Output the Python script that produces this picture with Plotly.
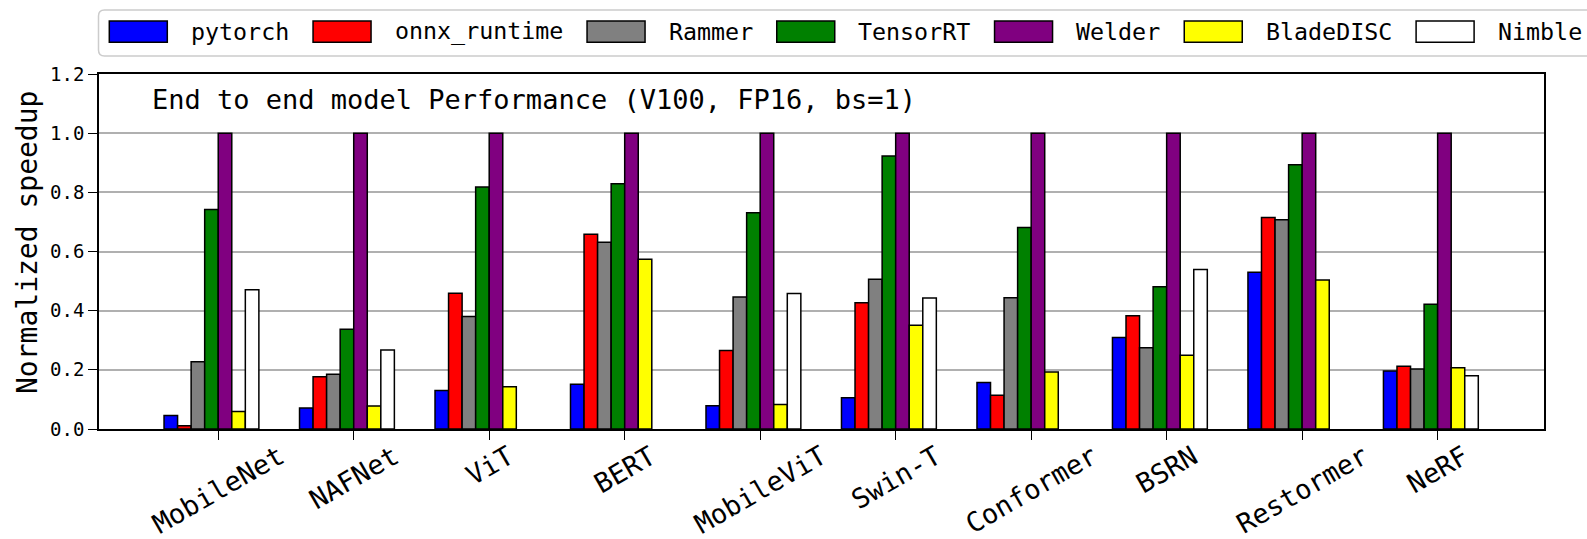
import plotly.graph_objects as go

# ---------------- data ----------------
models = ["MobileNet", "NAFNet", "ViT", "BERT", "MobileViT",
          "Swin-T", "Conformer", "BSRN", "Restormer", "NeRF"]
pytorch = [0.046, 0.071, 0.130, 0.151, 0.079, 0.106, 0.157, 0.309, 0.530, 0.196]
onnx_runtime = [0.011, 0.177, 0.459, 0.658, 0.265, 0.427, 0.114, 0.383, 0.715, 0.212]
rammer = [0.227, 0.185, 0.380, 0.631, 0.446, 0.506, 0.444, 0.275, 0.707, 0.203]
tensorrt = [0.742, 0.337, 0.818, 0.829, 0.731, 0.923, 0.681, 0.481, 0.893, 0.422]
welder = [1.0, 1.0, 1.0, 1.0, 1.0, 1.0, 1.0, 1.0, 1.0, 1.0]
bladedisc = [0.059, 0.078, 0.143, 0.574, 0.083, 0.351, 0.193, 0.249, 0.504, 0.207]
nimble = [0.471, 0.267, None, None, 0.458, 0.443, None, 0.539, None, 0.180]

series_names = ["pytorch", "onnx_runtime", "Rammer", "TensorRT", "Welder", "BladeDISC", "Nimble"]
series_values = [pytorch, onnx_runtime, rammer, tensorrt, welder, bladedisc, nimble]
series_colors = ["#0000ff", "#ff0000", "#808080", "#008000", "#800080", "#ffff00", "#ffffff"]

y_ticks = [0.0, 0.2, 0.4, 0.6, 0.8, 1.0, 1.2]
title_text = "End to end model Performance (V100, FP16, bs=1)"
y_title = "Normalized speedup"

# ---------------- layout constants ----------------
W, H = 1587, 539
L, R, T, B = 99, 43, 74, 110
PW, PH = W - L - R, H - T - B
FONT = "DejaVu Sans Mono"
BAR_W = 0.1

def px_x(p):
    return (p - L) / PW

def px_y(p):
    return (H - B - p) / PH

xs = list(range(len(models)))

fig = go.Figure()
for name, vals, col in zip(series_names, series_values, series_colors):
    fig.add_trace(go.Bar(
        x=xs, y=vals, name=name, showlegend=False,
        marker=dict(color=col, line=dict(color="black", width=1.5)),
    ))

annotations = []
shapes = []

# x tick labels (rotated, centred under ticks)
for i, m in enumerate(models):
    annotations.append(dict(
        x=i + BAR_W / 2, xref="x", y=0, yref="paper", yshift=-9,
        text=m, showarrow=False, textangle=-30, borderpad=0,
        xanchor="center", yanchor="top",
        font=dict(family=FONT, size=27, color="black"),
    ))

# in-plot title
annotations.append(dict(
    x=px_x(150), xref="paper", y=px_y(99), yref="paper",
    text=title_text, showarrow=False, xanchor="left", yanchor="middle",
    font=dict(family=FONT, size=27, color="black"),
))

# y axis title
annotations.append(dict(
    x=px_x(27), xref="paper", y=px_y(243), yref="paper",
    text=y_title, showarrow=False, textangle=-90,
    xanchor="center", yanchor="middle",
    font=dict(family=FONT, size=28, color="black"),
))

# custom legend (matplotlib-style, big swatches)
lx0, ly0, lx1, ly1 = 98.5, 10, 1610, 56
rx, ry = 6 / PW, 6 / PH
X0, X1, Y0, Y1 = px_x(lx0), px_x(lx1), px_y(ly0), px_y(ly1)
path = (f"M {X0+rx},{Y0} L {X1-rx},{Y0} Q {X1},{Y0} {X1},{Y0-ry} "
        f"L {X1},{Y1+ry} Q {X1},{Y1} {X1-rx},{Y1} L {X0+rx},{Y1} "
        f"Q {X0},{Y1} {X0},{Y1+ry} L {X0},{Y0-ry} Q {X0},{Y0} {X0+rx},{Y0} Z")
shapes.append(dict(type="path", path=path, xref="paper", yref="paper",
                   line=dict(color="#cccccc", width=1.5), fillcolor="white", layer="below"))

CHAR_W = 14.05
cursor = 109.3
for name, col in zip(series_names, series_colors):
    shapes.append(dict(type="rect", xref="paper", yref="paper",
                       x0=px_x(cursor), x1=px_x(cursor + 58),
                       y0=px_y(42.3), y1=px_y(21),
                       fillcolor=col, line=dict(color="black", width=1.5)))
    tx = cursor + 79.7
    annotations.append(dict(
        x=px_x(tx), xref="paper", y=px_y(31.5), yref="paper",
        text=name, showarrow=False, xanchor="left", yanchor="middle",
        font=dict(family=FONT, size=23.3, color="black"),
    ))
    cursor = tx + len(name) * CHAR_W + 25.7

fig.update_layout(
    width=W, height=H,
    margin=dict(l=L, r=R, t=T, b=B, pad=0),
    paper_bgcolor="white", plot_bgcolor="white",
    barmode="group", bargap=0.3, bargroupgap=0,
    annotations=annotations, shapes=shapes,
    font=dict(family=FONT, color="black"),
    xaxis=dict(
        range=[-0.83, 9.835], tickmode="array",
        tickvals=[i + BAR_W / 2 for i in xs], ticktext=["" for _ in xs],
        showticklabels=False, ticks="outside", ticklen=9, tickwidth=1.3, tickcolor="black",
        showline=True, linecolor="black", linewidth=1.5, mirror=True,
        showgrid=False, zeroline=False,
    ),
    yaxis=dict(
        range=[0, 1.2], tickmode="array", tickvals=y_ticks,
        ticktext=[f"{v:.1f}" for v in y_ticks],
        ticks="outside", ticklen=9, tickwidth=1.3, tickcolor="black",
        tickfont=dict(family=FONT, size=19, color="black"),
        ticklabelstandoff=0,
        showline=True, linecolor="black", linewidth=1.5, mirror=True,
        showgrid=True, gridcolor="#b0b0b0", gridwidth=1.5,
        zeroline=False, layer="above traces",
    ),
)

fig.write_html("out.html")
